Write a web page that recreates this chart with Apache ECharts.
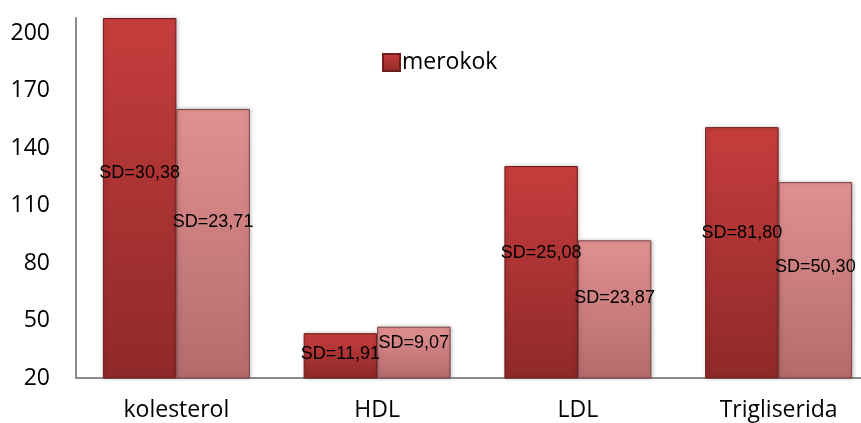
<!DOCTYPE html>
<html>
<head>
<meta charset="utf-8">
<script src="https://cdn.jsdelivr.net/npm/echarts@6/dist/echarts.min.js"></script>
<style>
  html, body { margin: 0; padding: 0; background: #fff; overflow: hidden; width: 861px; height: 423px; }
  /* the original plot runs past the right edge of the picture */
  #chart { width: 879px; height: 423px; }
</style>
</head>
<body>
<div id="chart"></div>
<script>
const categories = ['kolesterol', 'HDL', 'LDL', 'Trigliserida']
const merokok = [208, 43.4, 130.7, 151]
const tidakMerokok = [160.5, 46.8, 91.9, 122.3]
const sdMerokok = ['SD=30,38', 'SD=11,91', 'SD=25,08', 'SD=81,80']
const sdTidak = ['SD=23,71', 'SD=9,07', 'SD=23,87', 'SD=50,30']
const yTicks = [20, 50, 80, 110, 140, 170, 200]

// where the SD text sits inside each bar (fraction from the top)
const posMerokok = ['43%', '47%', '41%', '42%']
const posTidak = ['42%', '31%', '42%', '43%']

const myChart = echarts.init(document.getElementById('chart'))

const makeData = (vals, sds, pos) => vals.map((v, i) => ({
  value: v,
  label: {position: ['50%', pos[i]], formatter: sds[i]}
}))

const labelStyle = {
  show: true,
  align: 'center',
  verticalAlign: 'middle',
  color: '#000',
  fontFamily: 'Liberation Sans',
  fontSize: 18
}

myChart.setOption({
  animation: false,
  grid: {left: 76, top: 18, bottom: 45, right: 0},
  legend: {
    data: [{name: 'merokok', icon: 'rect'}],
    left: 377,
    top: 46,
    itemWidth: 17,
    itemHeight: 17,
    itemGap: 4,
    textStyle: {fontFamily: 'Open Sans', fontSize: 23, color: '#000', padding: [0, 0, 0, -3]}
  },
  xAxis: {
    type: 'category',
    data: categories,
    axisLine: {lineStyle: {color: '#8c8c8c', width: 2}},
    axisTick: {show: false},
    axisLabel: {fontFamily: 'Open Sans', fontSize: 23, color: '#000', margin: 21}
  },
  yAxis: {
    type: 'value',
    min: 20,
    max: 208,
    interval: 30,
    splitLine: {show: false},
    axisLine: {show: true, lineStyle: {color: '#8c8c8c', width: 2}},
    axisTick: {show: false},
    axisLabel: {
      fontFamily: 'Open Sans', fontSize: 23, color: '#000', margin: 26,
      formatter: v => yTicks.includes(v) ? String(v) : ''
    }
  },
  series: [
    {
      name: 'merokok',
      type: 'bar',
      barGap: 0,
      barCategoryGap: '26.8%',
      data: makeData(merokok, sdMerokok, posMerokok),
      label: labelStyle,
      itemStyle: {
        color: new echarts.graphic.LinearGradient(0, 0, 0, 1, [
          {offset: 0, color: '#c63d3d'},
          {offset: 1, color: '#8f2929'}
        ]),
        borderColor: '#6e1c1c',
        borderWidth: 1,
        shadowColor: 'rgba(0,0,0,0.25)',
        shadowBlur: 4,
        shadowOffsetX: 1
      }
    },
    {
      name: 'tidak merokok',
      type: 'bar',
      barGap: 0,
      barCategoryGap: '26.8%',
      data: makeData(tidakMerokok, sdTidak, posTidak),
      label: labelStyle,
      itemStyle: {
        color: new echarts.graphic.LinearGradient(0, 0, 0, 1, [
          {offset: 0, color: '#e29090'},
          {offset: 1, color: '#b46b6c'}
        ]),
        borderColor: '#7a4040',
        borderWidth: 1,
        shadowColor: 'rgba(0,0,0,0.25)',
        shadowBlur: 4,
        shadowOffsetX: 1
      }
    }
  ]
})
</script>
</body>
</html>
